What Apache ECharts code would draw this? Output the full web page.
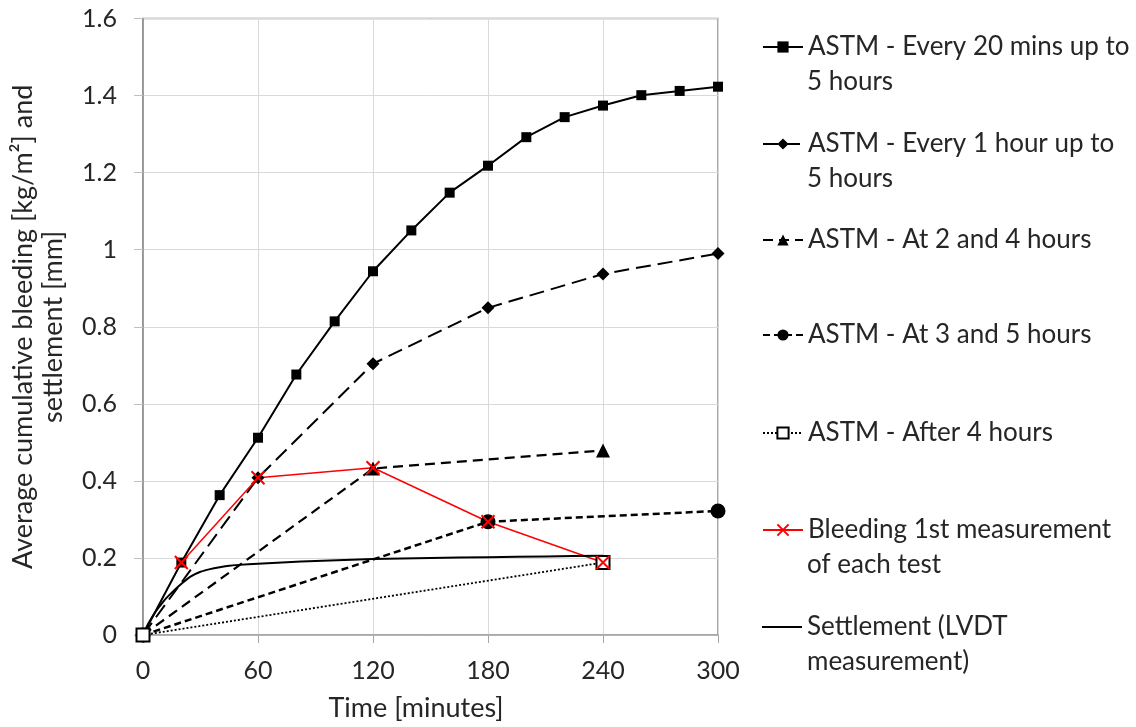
<!DOCTYPE html>
<html>
<head>
<meta charset="utf-8">
<title>Bleeding and settlement</title>
<script src="https://cdn.jsdelivr.net/npm/echarts@6/dist/echarts.min.js"></script>
<style>
    html, body { margin: 0; padding: 0; background: #fff; }
    #chart { width: 1136px; height: 727px; }
</style>
</head>
<body>
<div id="chart"></div>
<script>
// time axis ticks [minutes]
var xTicks = [0, 60, 120, 180, 240, 300];

// ASTM - every 20 mins
var t20 = [0, 20, 40, 60, 80, 100, 120, 140, 160, 180, 200, 220, 240, 260, 280, 300];
var v20 = [0, 0.188, 0.363, 0.512, 0.676, 0.814, 0.944, 1.050, 1.148, 1.218, 1.292, 1.344, 1.374, 1.401, 1.412, 1.423];

// ASTM - every 1 hour
var t60 = [0, 60, 120, 180, 240, 300];
var v60 = [0, 0.408, 0.704, 0.849, 0.937, 0.990];

// ASTM - at 2 and 4 hours
var t24 = [0, 120, 240];
var v24 = [0, 0.432, 0.479];

// ASTM - at 3 and 5 hours
var t35 = [0, 180, 300];
var v35 = [0, 0.294, 0.322];

// ASTM - after 4 hours
var t4 = [0, 240];
var v4 = [0, 0.188];

// bleeding, 1st measurement of each test
var tFirst = [20, 60, 120, 180, 240];
var vFirst = [0.188, 0.408, 0.434, 0.294, 0.188];

// settlement (LVDT)
var tSet = [0, 2, 4, 6, 8, 10, 12, 15, 18, 21, 25, 30, 35, 40, 45, 50, 60, 75, 90, 120, 150, 180, 210, 240];
var vSet = [0, 0.022, 0.04, 0.056, 0.07, 0.083, 0.095, 0.11, 0.124, 0.137, 0.152, 0.164, 0.171, 0.176, 0.18, 0.182, 0.185, 0.189, 0.192, 0.197, 0.2, 0.202, 0.204, 0.206];

var names = [
    'ASTM - Every 20 mins up to 5 hours',
    'ASTM - Every 1 hour up to 5 hours',
    'ASTM - At 2 and 4 hours',
    'ASTM - At 3 and 5 hours',
    'ASTM - After 4 hours',
    'Bleeding 1st measurement of each test',
    'Settlement (LVDT measurement)'
];
// how each legend entry is broken over lines
var legendLines = [
    ['ASTM - Every 20 mins up to', '5 hours'],
    ['ASTM - Every 1 hour up to', '5 hours'],
    ['ASTM - At 2 and 4 hours'],
    ['ASTM - At 3 and 5 hours'],
    ['ASTM - After 4 hours'],
    ['Bleeding 1st measurement', 'of each test'],
    ['Settlement (LVDT', 'measurement)']
];
var legendRowY = [47, 144, 240, 335, 433, 530, 627];

function pairs(xs, ys) {
    return xs.map(function (x, i) { return [x, ys[i]]; });
}

var FONT = 'Lato';
var TXT = '#262626';

var legends = [];
var graphics = [];
names.forEach(function (n, i) {
    var plainLine = (i === 6);
    legends.push({
        orient: 'vertical',
        left: 762,
        top: legendRowY[i] - 16,
        padding: 0,
        itemWidth: 40,
        itemHeight: 14,
        selectedMode: false,
        data: plainLine
            ? [{ name: n, icon: 'path://M0,6.5L40,6.5L40,8.5L0,8.5Z', itemStyle: { color: '#000' } }]
            : [n],
        formatter: function () { return legendLines[i][0]; },
        textStyle: { fontFamily: FONT, fontSize: 26, lineHeight: 32, color: TXT }
    });
    if (legendLines[i][1]) {
        graphics.push({
            type: 'text',
            left: 807,
            top: legendRowY[i] + 35 - 16,
            style: { text: legendLines[i][1], font: '26px ' + FONT, fill: TXT, lineHeight: 32 }
        });
    }
});

var chart = echarts.init(document.getElementById('chart'));
var option = {
    animation: false,
    backgroundColor: '#fff',
    legend: legends,
    graphic: graphics,
    grid: {
        left: 141.5, right: 418, top: 18.5, bottom: 91,
        show: true, borderColor: '#8c8c8c', borderWidth: 1.5
    },
    xAxis: {
        type: 'value', min: 0, max: 300, interval: 60,
        name: 'Time [minutes]',
        nameLocation: 'middle',
        nameGap: 60,
        nameTextStyle: { fontFamily: FONT, fontSize: 27, color: TXT, padding: [0, 29, 0, 0] },
        axisLine: { show: true, lineStyle: { color: '#a6a6a6', width: 1.5 } },
        axisTick: { show: true, length: 8, lineStyle: { color: '#a6a6a6' } },
        axisLabel: {
            fontFamily: FONT, fontSize: 25, color: TXT, margin: 23,
            formatter: function (v) { return xTicks.indexOf(v) >= 0 ? String(v) : ''; }
        },
        splitLine: { show: true, lineStyle: { color: '#d9d9d9', width: 1 } }
    },
    yAxis: {
        type: 'value', min: 0, max: 1.6, interval: 0.2,
        name: 'Average cumulative bleeding [kg/m²] and\nsettlement [mm]',
        nameLocation: 'middle',
        nameRotate: 90,
        nameGap: 75,
        nameTextStyle: { fontFamily: FONT, fontSize: 27, lineHeight: 30, color: TXT },
        axisLine: { show: true, lineStyle: { color: '#8c8c8c', width: 1.5 } },
        axisTick: { show: true, length: 9, lineStyle: { color: '#bfbfbf' } },
        axisLabel: {
            fontFamily: FONT, fontSize: 25, color: TXT, margin: 26,
            formatter: function (v) { return String(Math.round(v * 10) / 10); }
        },
        splitLine: { show: true, lineStyle: { color: '#d9d9d9', width: 1 } }
    },
    series: [
        {
            name: names[0], type: 'line', data: pairs(t20, v20),
            symbol: 'rect', symbolSize: 10,
            lineStyle: { color: '#000', width: 2 },
            itemStyle: { color: '#000' }
        },
        {
            name: names[1], type: 'line', data: pairs(t60, v60),
            symbol: 'diamond', symbolSize: 13,
            lineStyle: { color: '#000', width: 2, type: [15, 7] },
            itemStyle: { color: '#000' }
        },
        {
            name: names[2], type: 'line', data: pairs(t24, v24),
            symbol: 'triangle', symbolSize: 14,
            lineStyle: { color: '#000', width: 2.2, type: [10, 6] },
            itemStyle: { color: '#000' }
        },
        {
            name: names[3], type: 'line', data: pairs(t35, v35),
            symbol: 'circle', symbolSize: 15,
            lineStyle: { color: '#000', width: 2.5, type: [7, 4] },
            itemStyle: { color: '#000' }
        },
        {
            name: names[4], type: 'line', data: pairs(t4, v4),
            symbol: 'rect', symbolSize: 13,
            lineStyle: { color: '#000', width: 1.8, type: [2, 2] },
            itemStyle: { color: '#fff', borderColor: '#000', borderWidth: 2 }
        },
        {
            name: names[5], type: 'line', data: pairs(tFirst, vFirst),
            symbol: 'path://M0,0L10,10M10,0L0,10', symbolSize: 13,
            lineStyle: { color: '#ff0000', width: 1.5 },
            itemStyle: { color: 'none', borderColor: '#ff0000', borderWidth: 2 }
        },
        {
            name: names[6], type: 'line', data: pairs(tSet, vSet),
            symbol: 'none', smooth: 0.2,
            lineStyle: { color: '#000', width: 2 },
            itemStyle: { color: '#000' }
        }
    ]
};
chart.setOption(option);
</script>
</body>
</html>
